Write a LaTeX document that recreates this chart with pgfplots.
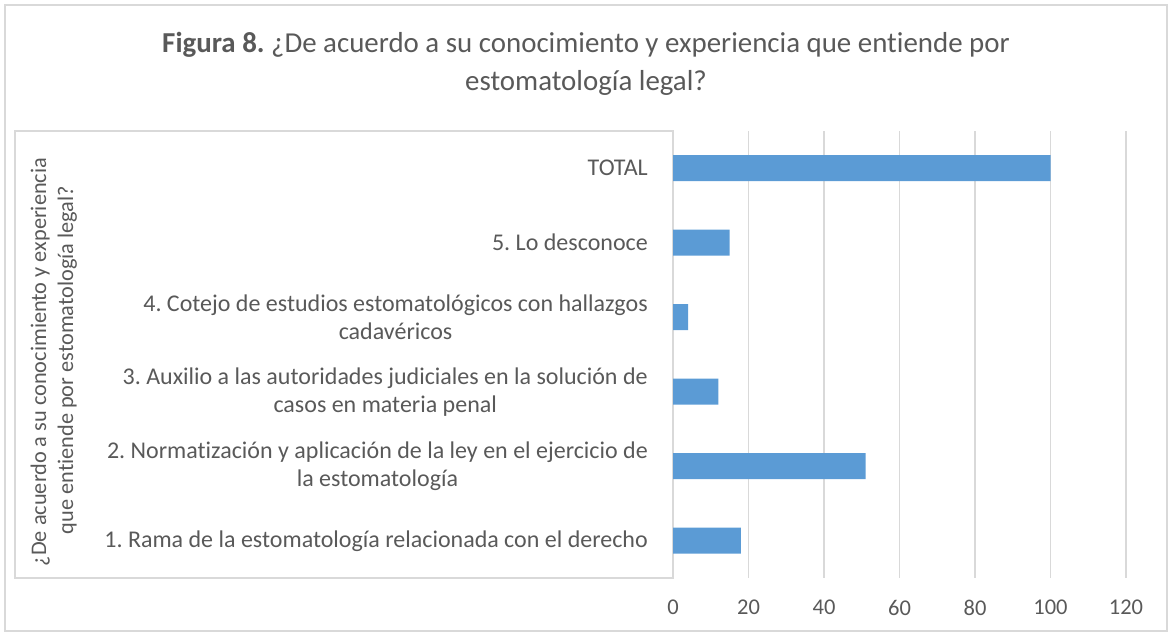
\documentclass[border=0pt]{standalone}
\usepackage{fontspec}
\setmainfont{Carlito}[RawFeature={-liga;-clig;-dlig}]
\usepackage{pgfplots}
\pgfplotsset{compat=1.18}
\definecolor{txt}{HTML}{595959}
\definecolor{grd}{HTML}{D9D9D9}
\definecolor{barc}{HTML}{5B9BD5}
\frenchspacing
\begin{document}
\begin{tikzpicture}[x=1pt,y=1pt]
\path[use as bounding box] (0,0) rectangle (1172,636);
\draw[grd, line width=1.5pt] (5,5) rectangle (1167,631);
% title
\node[anchor=base, txt, font=\fontsize{28.9}{38}\selectfont] at (586,583)
  {\textbf{Figura 8.} ¿De acuerdo a su conocimiento y experiencia que entiende por};
\node[anchor=base, txt, font=\fontsize{28.9}{38}\selectfont] at (586,545)
  {estomatología legal?};
% label box
\draw[grd, line width=1.2pt] (15,58) rectangle (673,505);
% y label
\node[anchor=base, rotate=90, txt, font=\fontsize{22.3}{27}\selectfont] at (46,274)
  {¿De acuerdo a su conocimiento y experiencia};
\node[anchor=base, rotate=90, txt, font=\fontsize{22.3}{27}\selectfont] at (73,276)
  {que entiende por estomatología legal?};
\begin{axis}[
  at={(673pt,58pt)}, anchor=south west,
  scale only axis, width=453pt, height=447pt,
  xmin=0, xmax=120, ymin=-0.5, ymax=5.5,
  xbar, bar width=26pt,
  axis line style={draw=none},
  xmajorgrids, grid style={grd, line width=1.2pt},
  xtick={0,20,...,120}, ytick={0,...,5},
  major tick length=0pt,
  /pgf/number format/assume math mode=true,
  xticklabel style={txt, font=\fontsize{22.5}{26}\selectfont, inner sep=0pt, yshift=-22pt},
  yticklabel style={txt, font=\fontsize{24}{28}\selectfont, align=center, anchor=east, inner sep=0pt, xshift=-25pt},
  yticklabels={
    1. Rama de la estomatología relacionada con el derecho,
    {2. Normatización y aplicación de la ley en el ejercicio de\\la estomatología},
    {3. Auxilio a las autoridades judiciales en la solución de\\casos en materia penal},
    {4. Cotejo de estudios estomatológicos con hallazgos\\cadavéricos},
    5. Lo desconoce,
    TOTAL},
  clip=false,
]
\addplot[fill=barc, draw=none] coordinates {(18,0) (51,1) (12,2) (4,3) (15,4) (100,5)};
\end{axis}
\end{tikzpicture}
\end{document}
